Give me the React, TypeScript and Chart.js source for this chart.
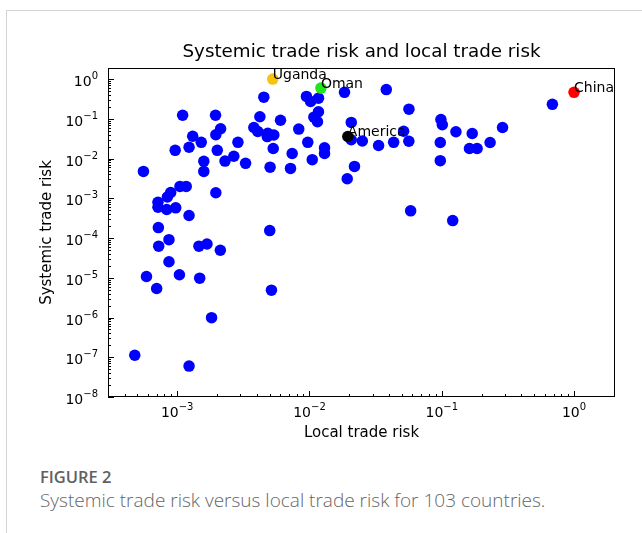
import { useEffect, useRef } from 'react';
import { Chart, registerables } from 'chart.js';

Chart.register(...registerables);

// Local trade risk (x) and systemic trade risk (y) for the countries shown in blue
const localRisk = [
  5.56e-4, 1.10e-3, 1.95e-3, 2.13e-3, 1.96e-3, 1.31e-3, 1.52e-3, 1.23e-3, 9.66e-4, 2.01e-3,
  2.88e-3, 2.68e-3, 2.30e-3, 3.29e-3, 1.59e-3, 1.59e-3, 1.05e-3, 1.17e-3, 1.96e-3, 8.93e-4,
  8.43e-4, 7.16e-4, 7.16e-4, 8.34e-4, 9.75e-4, 1.23e-3, 7.21e-4, 8.67e-4, 7.25e-4, 1.46e-3,
  1.68e-3, 2.12e-3, 8.67e-4, 5.86e-4, 1.04e-3, 1.48e-3, 7.0e-4, 1.82e-3, 4.78e-4, 1.23e-3,
  4.52e-3, 9.49e-3, 1.02e-2, 1.17e-2, 1.17e-2, 1.08e-2, 1.15e-2, 4.22e-3, 6.04e-3, 3.80e-3,
  4.07e-3, 4.84e-3, 5.38e-3, 4.80e-3, 8.30e-3, 9.71e-3, 5.32e-3, 7.40e-3, 1.30e-2, 1.30e-2,
  1.05e-2, 5.04e-3, 7.19e-3, 5.01e-3, 5.16e-3, 1.84e-2, 3.81e-2, 5.65e-2, 2.07e-2, 2.07e-2,
  2.51e-2, 3.33e-2, 4.33e-2, 5.15e-2, 5.64e-2, 2.19e-2, 1.93e-2, 5.82e-2, 9.86e-2, 0.101,
  0.128, 0.170, 9.75e-2, 0.162, 0.185, 0.232, 0.288, 0.686, 9.75e-2, 0.121,
];
const systemicRisk = [
  4.75e-3, 0.123, 0.123, 5.62e-2, 3.96e-2, 3.64e-2, 2.56e-2, 1.92e-2, 1.61e-2, 1.61e-2,
  2.56e-2, 1.14e-2, 8.65e-3, 7.57e-3, 8.5e-3, 4.75e-3, 1.99e-3, 1.99e-3, 1.38e-3, 1.40e-3,
  1.08e-3, 7.98e-4, 5.96e-4, 5.21e-4, 5.75e-4, 3.68e-4, 1.83e-4, 9.12e-5, 6.24e-5, 6.24e-5,
  7.10e-5, 4.94e-5, 2.54e-5, 1.08e-5, 1.19e-5, 9.8e-6, 5.37e-6, 9.93e-7, 1.12e-7, 6.0e-8,
  0.351, 0.366, 0.274, 0.331, 0.151, 0.110, 8.45e-2, 0.113, 9.22e-2, 6.03e-2,
  4.78e-2, 4.33e-2, 3.92e-2, 3.57e-2, 5.52e-2, 2.56e-2, 1.79e-2, 1.34e-2, 1.86e-2, 1.35e-2,
  9.38e-3, 6.07e-3, 5.66e-3, 1.54e-4, 4.89e-6, 0.464, 0.543, 0.175, 8.11e-2, 2.97e-2,
  2.77e-2, 2.13e-2, 2.56e-2, 4.86e-2, 2.72e-2, 6.35e-3, 3.10e-3, 4.83e-4, 9.6e-2, 7.10e-2,
  4.72e-2, 4.28e-2, 2.54e-2, 1.79e-2, 1.79e-2, 2.54e-2, 6.03e-2, 0.231, 8.85e-3, 2.75e-4,
];

// Named countries
const highlightNames = ['Uganda', 'Oman', 'America', 'China'];
const highlightLocal = [5.28e-3, 1.22e-2, 1.95e-2, 1.0];
const highlightSystemic = [1.0, 0.593, 3.60e-2, 0.464];
const highlightColors = ['#f7c311', '#22e61c', '#000000', '#ff0000'];

// Axis ranges and decade labels (10 raised to the listed power)
const xRange = [3.0e-4, 2.04];
const yRange = [1e-8, 1.9];
const xTickExponents = [-3, -2, -1, 0];
const xTickPowers = ['−3', '−2', '−1', '0'];
const yTickExponents = [-8, -7, -6, -5, -4, -3, -2, -1, 0];
const yTickPowers = ['−8', '−7', '−6', '−5', '−4', '−3', '−2', '−1', '0'];

const FONT = '"DejaVu Sans", sans-serif';

const isDecade = (v: number) => Math.abs(Math.log10(v) - Math.round(Math.log10(v))) < 1e-9;

function logTicks(min: number, max: number) {
  const out: { value: number; major: boolean }[] = [];
  const lo = Math.floor(Math.log10(min));
  const hi = Math.ceil(Math.log10(max));
  for (let e = lo; e <= hi; e++) {
    for (let m = 1; m <= 9; m++) {
      const v = m * Math.pow(10, e);
      if (v >= min * (1 - 1e-9) && v <= max * (1 + 1e-9)) out.push({ value: v, major: m === 1 });
    }
  }
  return out;
}

function powerOf(v: number, exps: number[], powers: string[]) {
  if (!isDecade(v)) return null;
  const i = exps.indexOf(Math.round(Math.log10(v)));
  return i >= 0 ? powers[i] : null;
}

// "10" with a raised exponent, anchored on its right edge or its centre
function drawPower(ctx: CanvasRenderingContext2D, power: string, x: number, baseline: number, align: 'right' | 'center') {
  ctx.font = `14px ${FONT}`;
  const bw = ctx.measureText('10').width;
  ctx.font = `10px ${FONT}`;
  const ew = ctx.measureText(power).width;
  const total = bw + ew;
  const left = align === 'right' ? x - total : x - total / 2;
  ctx.textAlign = 'left';
  ctx.textBaseline = 'alphabetic';
  ctx.font = `14px ${FONT}`;
  ctx.fillText('10', left, baseline);
  ctx.font = `10px ${FONT}`;
  ctx.fillText(power, left + bw, baseline - 7);
}

const decorations = {
  id: 'decorations',
  afterDatasetsDraw(chart: any) {
    const { ctx, scales } = chart;
    ctx.save();
    ctx.font = `14px ${FONT}`;
    ctx.fillStyle = '#000';
    ctx.textAlign = 'left';
    ctx.textBaseline = 'alphabetic';
    highlightNames.forEach((name, i) => {
      const px = scales.x.getPixelForValue(highlightLocal[i]);
      const py = scales.y.getPixelForValue(highlightSystemic[i]);
      ctx.fillText(name, px, py);
    });
    ctx.restore();
  },
  afterDraw(chart: any) {
    const { ctx, chartArea: a, scales } = chart;
    ctx.save();
    ctx.strokeStyle = '#000';
    ctx.lineWidth = 1;
    ctx.strokeRect(a.left + 0.5, a.top + 0.5, a.right - a.left - 1, a.bottom - a.top - 1);
    ctx.beginPath();
    for (const t of scales.x.ticks) {
      const x = Math.round(scales.x.getPixelForValue(t.value)) + 0.5;
      const len = isDecade(t.value) ? 6 : 3;
      ctx.moveTo(x, a.bottom);
      ctx.lineTo(x, a.bottom - len);
    }
    for (const t of scales.y.ticks) {
      const y = Math.round(scales.y.getPixelForValue(t.value)) + 0.5;
      const len = isDecade(t.value) ? 6 : 3;
      ctx.moveTo(a.left, y);
      ctx.lineTo(a.left + len, y);
    }
    ctx.stroke();

    ctx.fillStyle = '#000';
    for (const t of scales.x.ticks) {
      const p = powerOf(t.value, xTickExponents, xTickPowers);
      if (p !== null) drawPower(ctx, p, scales.x.getPixelForValue(t.value), a.bottom + 20, 'center');
    }
    for (const t of scales.y.ticks) {
      const p = powerOf(t.value, yTickExponents, yTickPowers);
      if (p !== null) drawPower(ctx, p, a.left - 10, scales.y.getPixelForValue(t.value) + 7, 'right');
    }

    ctx.font = `18.3px ${FONT}`;
    ctx.textAlign = 'center';
    ctx.textBaseline = 'alphabetic';
    ctx.fillText('Systemic trade risk and local trade risk', (a.left + a.right) / 2, a.top - 11);
    ctx.restore();
  },
};

export default function App() {
  const canvasRef = useRef<HTMLCanvasElement>(null);

  useEffect(() => {
    const canvas = canvasRef.current;
    if (!canvas) return;
    const chart = new Chart(canvas, {
      type: 'scatter',
      data: {
        datasets: [
          {
            label: 'Named countries',
            data: highlightLocal.map((x, i) => ({ x, y: highlightSystemic[i] })),
            backgroundColor: highlightColors,
            borderWidth: 0,
            pointRadius: 5.75,
          },
          {
            label: 'Countries',
            data: localRisk.map((x, i) => ({ x, y: systemicRisk[i] })),
            backgroundColor: '#0000ff',
            borderWidth: 0,
            pointRadius: 5.75,
          },
        ],
      },
      options: {
        responsive: false,
        animation: false,
        events: [],
        layout: { padding: { top: 68, left: 0, right: 27, bottom: 0 } },
        plugins: {
          legend: { display: false },
          tooltip: { enabled: false },
          title: { display: false },
        },
        scales: {
          x: {
            type: 'logarithmic',
            min: xRange[0],
            max: xRange[1],
            grid: { display: false, drawTicks: false },
            border: { display: false },
            afterBuildTicks: (scale: any) => {
              scale.ticks = logTicks(xRange[0], xRange[1]);
            },
            afterFit: (scale: any) => {
              scale.height = 63;
            },
            ticks: {
              autoSkip: false,
              maxRotation: 0,
              minRotation: 0,
              padding: 4,
              font: { family: FONT, size: 14 },
              callback: () => '',
            },
            title: {
              display: true,
              text: 'Local trade risk',
              color: '#000',
              font: { family: FONT, size: 15 },
              padding: { top: 0, bottom: 18 },
            },
          },
          y: {
            type: 'logarithmic',
            min: yRange[0],
            max: yRange[1],
            grid: { display: false, drawTicks: false },
            border: { display: false },
            afterBuildTicks: (scale: any) => {
              scale.ticks = logTicks(yRange[0], yRange[1]);
            },
            afterFit: (scale: any) => {
              scale.width = 108;
            },
            ticks: {
              autoSkip: false,
              padding: 9,
              font: { family: FONT, size: 14 },
              callback: () => '',
            },
            title: {
              display: true,
              text: 'Systemic trade risk',
              color: '#000',
              font: { family: FONT, size: 15 },
              padding: { top: 38, bottom: 0 },
            },
          },
        },
      },
      plugins: [decorations],
    } as any);
    return () => chart.destroy();
  }, []);

  return (
    <div
      style={{
        position: 'absolute',
        left: 0,
        top: 0,
        width: 642,
        height: 533,
        background: '#fff',
        overflow: 'hidden',
      }}
    >
      <div
        style={{
          position: 'absolute',
          left: 6,
          top: 10,
          width: 700,
          height: 600,
          borderLeft: '1px solid #d4d4d4',
          borderTop: '1px solid #d4d4d4',
        }}
      />
      <canvas
        ref={canvasRef}
        width={642}
        height={460}
        style={{ position: 'absolute', left: 0, top: 0 }}
      />
      <div
        style={{
          position: 'absolute',
          left: 40,
          top: 466,
          fontFamily: '"Open Sans", sans-serif',
          fontSize: 16.5,
          fontWeight: 600,
          color: '#606060',
          lineHeight: '22px',
          whiteSpace: 'nowrap',
        }}
      >
        FIGURE 2
      </div>
      <div
        style={{
          position: 'absolute',
          left: 40,
          top: 489,
          fontFamily: '"Open Sans", sans-serif',
          fontSize: 19,
          fontWeight: 300,
          color: '#666666',
          lineHeight: '22px',
          whiteSpace: 'nowrap',
        }}
      >
        Systemic trade risk versus local trade risk for 103 countries.
      </div>
    </div>
  );
}
